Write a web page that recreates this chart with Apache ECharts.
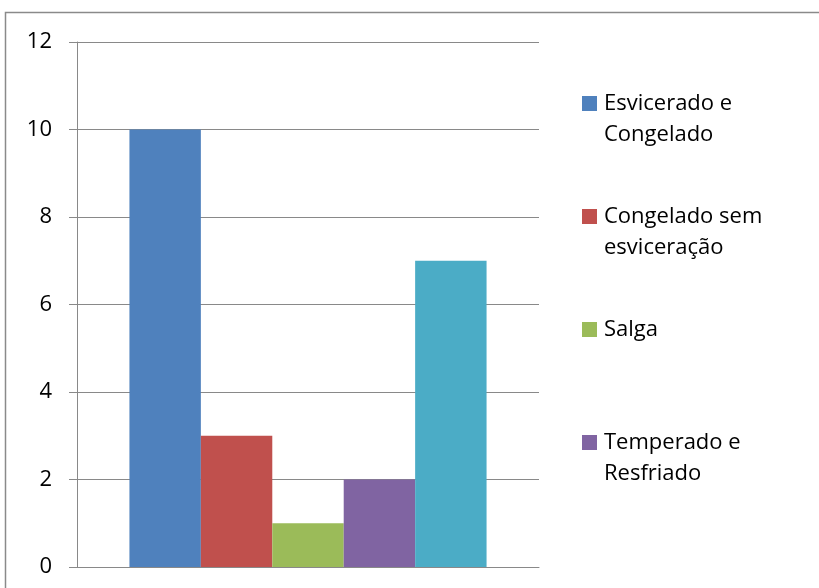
<!DOCTYPE html>
<html>
<head>
<meta charset="utf-8">
<style>
  html, body { margin: 0; padding: 0; background: #fff; }
  #chart { width: 819px; height: 588px; }
</style>
<script src="https://cdn.jsdelivr.net/npm/echarts@6/dist/echarts.min.js"></script>
</head>
<body>
<div id="chart"></div>
<script>
// Processing methods and counts
const seriesNames = [
  'Esvicerado e\nCongelado',
  'Congelado sem\nesvicera\u00e7\u00e3o',
  'Salga',
  'Temperado e\nResfriado',
  'Outros'
];
const seriesValues = [10, 3, 1, 2, 7];
const seriesColors = ['#4F81BD', '#C0504D', '#9BBB59', '#8064A2', '#4BACC6'];
const categories = [''];
const yTicks = [0, 2, 4, 6, 8, 10, 12];
// only the first four entries fit in the legend box
const legendNames = seriesNames.slice(0, 4);

const FONT = '"Open Sans", "Noto Sans", sans-serif';
const GRID_COLOR = '#898989';

const chart = echarts.init(document.getElementById('chart'), null, { renderer: 'canvas' });

const series = seriesNames.map((name, i) => ({
  name: name,
  type: 'bar',
  data: [seriesValues[i]],
  itemStyle: { color: seriesColors[i] },
  barGap: '0%',
  barCategoryGap: '22.7%',
  emphasis: { disabled: true }
}));

// Every legend entry is laid out as three lines so the swatch sits
// beside the first line of text and the entries are evenly spaced.
function legendLabel(name) {
  const lines = name.split('\n');
  return lines.length > 1 ? ' \n' + name : ' \n' + name + '\n ';
}

chart.setOption({
  animation: false,
  backgroundColor: '#ffffff',
  textStyle: { fontFamily: FONT },
  grid: { left: 77, right: 280, top: 42, bottom: 21 },
  xAxis: {
    type: 'category',
    data: categories,
    axisLine: { show: true, lineStyle: { color: GRID_COLOR, width: 1 } },
    axisTick: { show: false },
    axisLabel: { show: false },
    splitLine: { show: false }
  },
  yAxis: {
    type: 'value',
    min: yTicks[0],
    max: yTicks[yTicks.length - 1],
    interval: 2,
    axisLine: { show: true, lineStyle: { color: GRID_COLOR, width: 1 } },
    axisTick: { show: true, length: 8, lineStyle: { color: GRID_COLOR, width: 1 } },
    axisLabel: {
      margin: 25,
      color: '#000',
      fontSize: 22,
      fontFamily: FONT
    },
    splitLine: { show: true, lineStyle: { color: GRID_COLOR, width: 1 } }
  },
  legend: {
    orient: 'vertical',
    left: 582,
    top: 57,
    padding: 0,
    itemGap: 20,
    itemWidth: 15,
    itemHeight: 15,
    icon: 'rect',
    selectedMode: false,
    data: legendNames,
    formatter: legendLabel,
    textStyle: {
      color: '#000',
      fontSize: 22,
      lineHeight: 31,
      padding: [0, 0, 0, 2],
      fontFamily: FONT
    }
  },
  graphic: [{
    type: 'rect',
    silent: true,
    shape: { x: 5.5, y: 12.5, width: 1000, height: 800 },
    style: { fill: null, stroke: '#8a8a8a', lineWidth: 1.5 }
  }],
  series: series
});
</script>
</body>
</html>
